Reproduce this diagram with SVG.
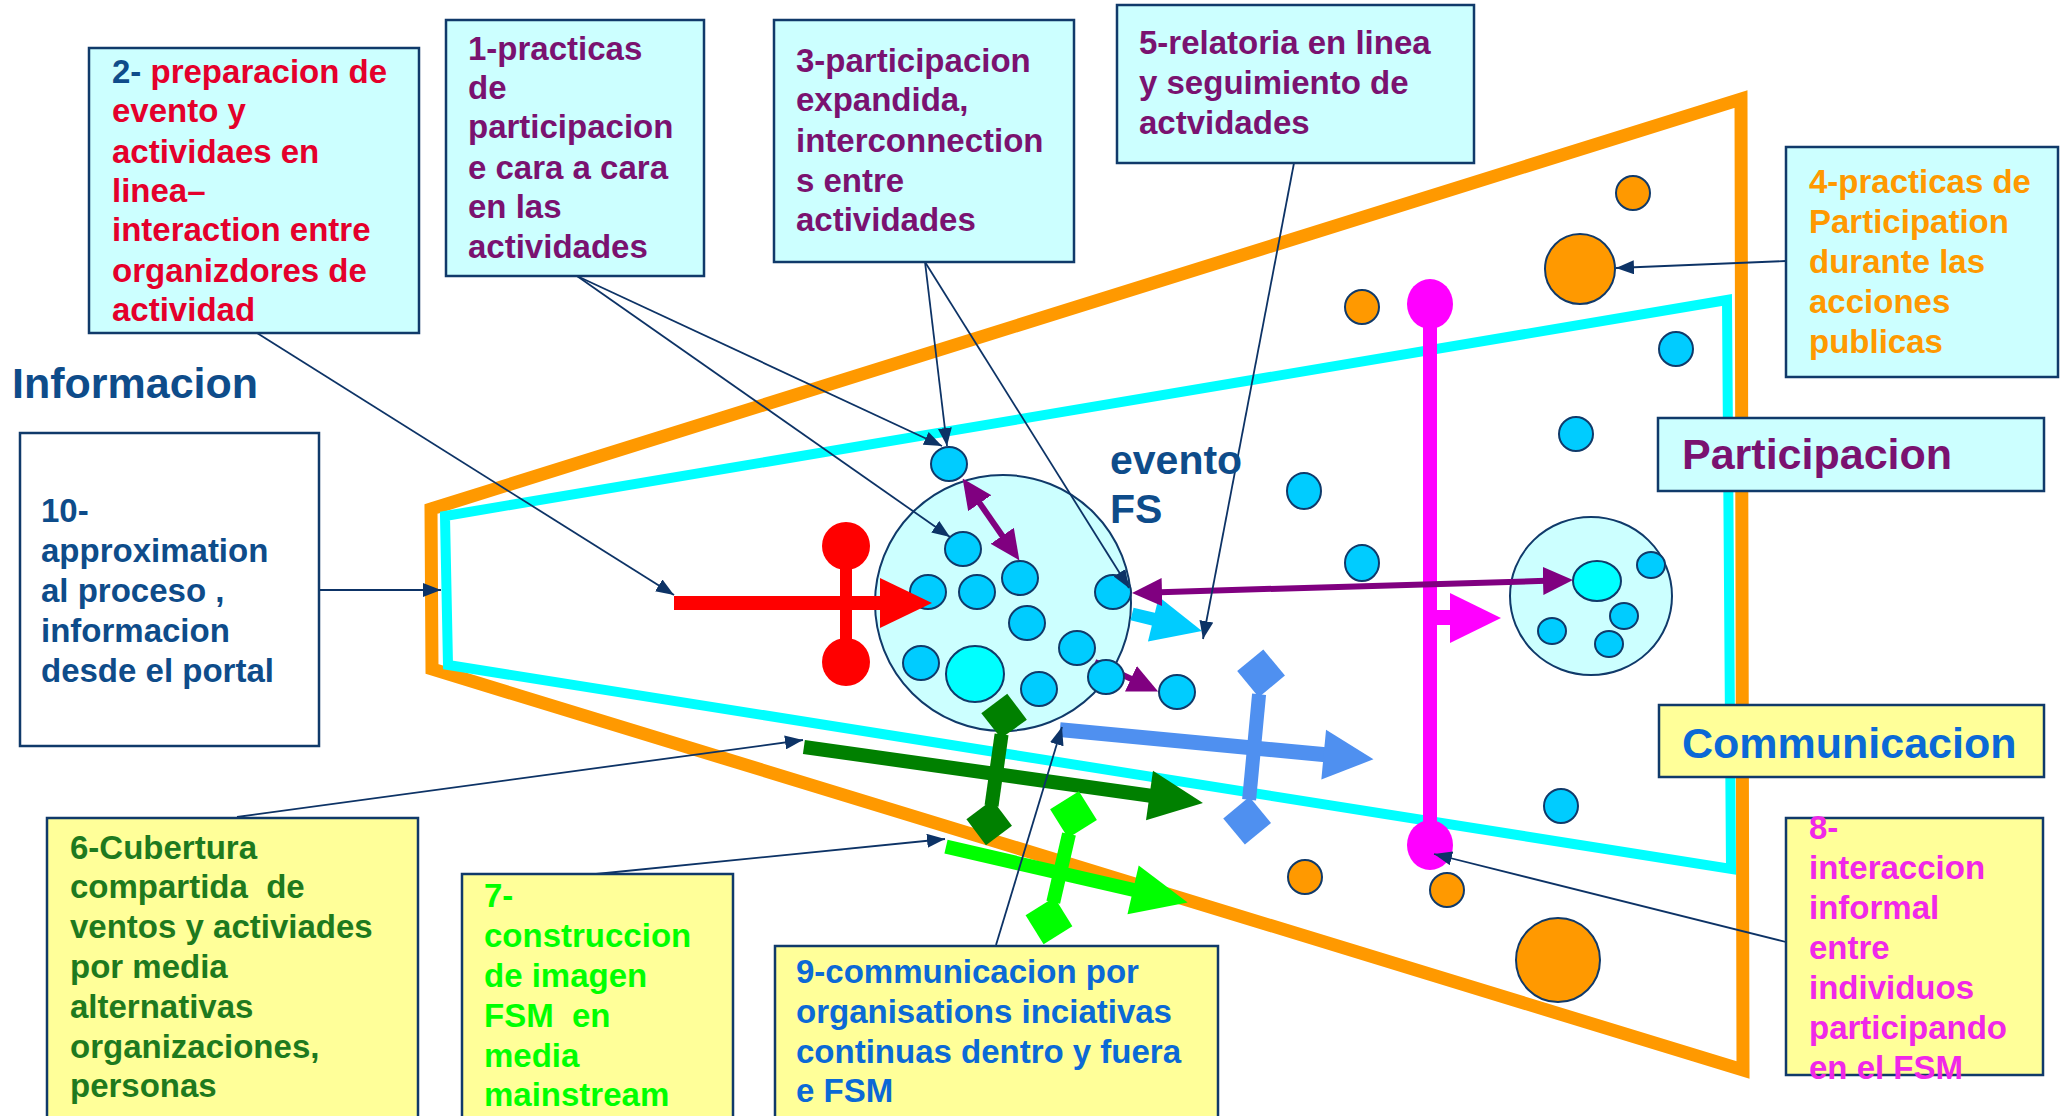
<svg xmlns="http://www.w3.org/2000/svg" width="2064" height="1116" viewBox="0 0 2064 1116">
<defs>
<style>
text { font-family: "Liberation Sans", Arial, Helvetica, sans-serif; font-weight: bold; }
.t { font-size: 33px; }
.big { font-size: 43px; }
.navy { fill: #0E4C8A; }
.purple { fill: #7A1270; }
.red { fill: #E4002B; }
.orange { fill: #FF9900; }
.dgreen { fill: #1E7A1E; }
.lgreen { fill: #00FF00; }
.blue { fill: #0B69D6; }
.magenta { fill: #F028E8; }
.bc { fill: #CCFFFF; stroke: #103A6A; stroke-width: 2.5; }
.by { fill: #FFFF99; stroke: #103A6A; stroke-width: 2.5; }
.bw { fill: #FFFFFF; stroke: #103A6A; stroke-width: 2.5; }
.c { fill: #00CCFF; stroke: #103A6A; stroke-width: 2; }
.o { fill: #FF9900; stroke: #103A6A; stroke-width: 2; }
.conn { stroke: #0D3366; stroke-width: 1.8; fill: none; marker-end: url(#ah); }
.pa { stroke: #800080; stroke-width: 6; fill: none; marker-end: url(#ph); }
</style>
<marker id="ah" viewBox="0 0 18 14" refX="18" refY="7" markerWidth="18" markerHeight="14" markerUnits="userSpaceOnUse" orient="auto">
<path d="M0,0 L18,7 L0,14 z" fill="#0D3366"/>
</marker>
<marker id="ph" viewBox="0 0 30 28" refX="10" refY="14" markerWidth="30" markerHeight="28" markerUnits="userSpaceOnUse" orient="auto-start-reverse">
<path d="M0,0 L30,14 L0,28 z" fill="#800080"/>
</marker>
</defs>
<rect width="2064" height="1116" fill="#FFFFFF"/>

<g id="frames" fill="none" stroke-linejoin="miter">
<polygon points="431,509 1741,99 1743,1070 432,669" stroke="#FF9900" stroke-width="13"/>
<polygon points="445,516 1727,300 1731,869 448,665" stroke="#00FFFF" stroke-width="10"/>
</g>

<g id="event-circle">
<circle cx="1003" cy="603" r="128" fill="#CCFFFF" stroke="#103A6A" stroke-width="2"/>
</g>

<g id="purple-short">
<line x1="1095" y1="662" x2="1140" y2="683" class="pa"/>
</g>

<g id="inner-circles">
<ellipse class="c" cx="963" cy="549" rx="18" ry="17"/>
<ellipse class="c" cx="1020" cy="578" rx="18" ry="17"/>
<ellipse class="c" cx="928" cy="592" rx="18" ry="17"/>
<ellipse class="c" cx="977" cy="592" rx="18" ry="17"/>
<ellipse class="c" cx="1113" cy="592" rx="18" ry="17"/>
<ellipse class="c" cx="1027" cy="623" rx="18" ry="17"/>
<ellipse class="c" cx="1077" cy="648" rx="18" ry="17"/>
<ellipse class="c" cx="921" cy="663" rx="18" ry="17"/>
<ellipse cx="975" cy="674" rx="29" ry="28" fill="#00FFFF" stroke="#103A6A" stroke-width="2"/>
<ellipse class="c" cx="1039" cy="689" rx="18" ry="17"/>
<ellipse class="c" cx="1106" cy="677" rx="18" ry="17"/>
</g>

<g id="right-cluster">
<ellipse cx="1591" cy="596" rx="81" ry="79" fill="#CCFFFF" stroke="#103A6A" stroke-width="2"/>
<ellipse cx="1597" cy="581" rx="24" ry="20" fill="#00FFFF" stroke="#103A6A" stroke-width="2"/>
<ellipse class="c" cx="1651" cy="565" rx="14" ry="13"/>
<ellipse class="c" cx="1624" cy="616" rx="14" ry="13"/>
<ellipse class="c" cx="1552" cy="631" rx="14" ry="13"/>
<ellipse class="c" cx="1609" cy="644" rx="14" ry="13"/>
</g>

<g id="loose-circles">
<ellipse class="c" cx="949" cy="464" rx="18" ry="17"/>
<ellipse class="c" cx="1177" cy="692" rx="18" ry="17"/>
<ellipse class="c" cx="1304" cy="491" rx="17" ry="18"/>
<ellipse class="c" cx="1362" cy="563" rx="17" ry="18"/>
<ellipse class="c" cx="1576" cy="434" rx="17" ry="17"/>
<ellipse class="c" cx="1676" cy="349" rx="17" ry="17"/>
<ellipse class="c" cx="1561" cy="806" rx="17" ry="17"/>
<ellipse class="o" cx="1633" cy="193" rx="17" ry="17"/>
<ellipse class="o" cx="1580" cy="269" rx="35" ry="35"/>
<ellipse class="o" cx="1362" cy="307" rx="17" ry="17"/>
<ellipse class="o" cx="1305" cy="877" rx="17" ry="17"/>
<ellipse class="o" cx="1447" cy="890" rx="17" ry="17"/>
<ellipse class="o" cx="1558" cy="960" rx="42" ry="42"/>
</g>

<g id="red-cross" transform="translate(846,603)" fill="#FF0000">
<rect x="-172" y="-7" width="208" height="14"/>
<polygon points="34,-25 86,0 34,25"/>
<rect x="-6" y="-58" width="12" height="116"/>
<ellipse cx="0" cy="-57" rx="24" ry="24"/>
<ellipse cx="0" cy="59" rx="24" ry="24"/>
</g>

<g id="darkgreen-cross" transform="translate(996,774) rotate(8)" fill="#008000">
<rect x="-194" y="-7" width="352" height="14"/>
<polygon points="155,-25 209,0 155,25"/>
<rect x="-7" y="-40" width="14" height="72"/>
<polygon points="0,-81 23,-58 0,-36 -23,-58"/>
<polygon points="0,26 23,49 0,72 -23,49"/>
</g>

<g id="blue-cross" transform="translate(1254,748) rotate(5.4)" fill="#4F90F0">
<rect x="-195" y="-7.5" width="267" height="15"/>
<polygon points="70,-25 120,0 70,25"/>
<rect x="-7" y="-54" width="14" height="106"/>
<polygon points="0,-99 24,-75 0,-51 -24,-75"/>
<polygon points="0,49 24,73 0,97 -24,73"/>
</g>

<g id="green-cross" transform="translate(1060,873) rotate(13)" fill="#00FF00">
<rect x="-117" y="-7" width="195" height="14"/>
<polygon points="75,-25 131,0 75,25"/>
<rect x="-7" y="-40" width="14" height="70"/>
<polygon points="0,-84 24,-60 0,-36 -24,-60"/>
<polygon points="0,25 24,49 0,73 -24,49"/>
</g>

<g id="lightblue-arrow" transform="translate(1132,614) rotate(13.6)" fill="#00CCFF">
<rect x="0" y="-6.5" width="24" height="13"/>
<polygon points="22,-23 72,0 22,23"/>
</g>

<g id="magenta-bar" fill="#FF00FF">
<rect x="1423" y="304" width="14" height="541"/>
<ellipse cx="1430" cy="304" rx="23" ry="25"/>
<ellipse cx="1430" cy="845" rx="23" ry="25"/>
<rect x="1430" y="610" width="22" height="15"/>
<polygon points="1450,593 1501,618 1450,643"/>
</g>

<g id="purple-arrows">
<line x1="974" y1="495" x2="1008" y2="544" class="pa" style="marker-start:url(#ph)"/>
<line x1="1152" y1="592.4" x2="1553" y2="580.6" class="pa" style="marker-start:url(#ph)"/>
</g>

<g id="connectors">
<line class="conn" x1="257" y1="333" x2="674" y2="595"/>
<line class="conn" x1="319" y1="590" x2="441" y2="590"/>
<line class="conn" x1="577" y1="276" x2="942" y2="446"/>
<line class="conn" x1="577" y1="276" x2="950" y2="537"/>
<line class="conn" x1="925" y1="262" x2="947" y2="446"/>
<line class="conn" x1="925" y1="262" x2="1129" y2="588"/>
<line class="conn" x1="1294" y1="163" x2="1203" y2="639"/>
<line class="conn" x1="1786" y1="261" x2="1616" y2="268"/>
<line class="conn" x1="237" y1="817" x2="803" y2="740"/>
<line class="conn" x1="596" y1="874" x2="945" y2="839"/>
<line class="conn" x1="996" y1="945" x2="1062" y2="727"/>
<line class="conn" x1="1786" y1="942" x2="1434" y2="854"/>
</g>

<g id="box2">
<rect class="bc" x="89" y="48" width="330" height="285"/>
<text class="t red" x="112" y="83"><tspan class="navy">2- </tspan>preparacion de</text>
<text class="t red" x="112" y="122">evento y</text>
<text class="t red" x="112" y="163">actividaes en</text>
<text class="t red" x="112" y="202">linea–</text>
<text class="t red" x="112" y="241">interaction entre</text>
<text class="t red" x="112" y="282">organizdores de</text>
<text class="t red" x="112" y="321">actividad</text>
</g>

<g id="box1">
<rect class="bc" x="446" y="20" width="258" height="256"/>
<text class="t purple" x="468" y="60">1-practicas</text>
<text class="t purple" x="468" y="99">de</text>
<text class="t purple" x="468" y="138">participacion</text>
<text class="t purple" x="468" y="179">e cara a cara</text>
<text class="t purple" x="468" y="218">en las</text>
<text class="t purple" x="468" y="258">actividades</text>
</g>

<g id="box3">
<rect class="bc" x="774" y="20" width="300" height="242"/>
<text class="t purple" x="796" y="72">3-participacion</text>
<text class="t purple" x="796" y="111">expandida,</text>
<text class="t purple" x="796" y="152">interconnection</text>
<text class="t purple" x="796" y="192">s entre</text>
<text class="t purple" x="796" y="231">actividades</text>
</g>

<g id="box5">
<rect class="bc" x="1117" y="5" width="357" height="158"/>
<text class="t purple" x="1139" y="54">5-relatoria en linea</text>
<text class="t purple" x="1139" y="94">y seguimiento de</text>
<text class="t purple" x="1139" y="134">actvidades</text>
</g>

<g id="box4">
<rect class="bc" x="1786" y="147" width="272" height="230"/>
<text class="t orange" x="1809" y="193">4-practicas de</text>
<text class="t orange" x="1809" y="233">Participation</text>
<text class="t orange" x="1809" y="273">durante las</text>
<text class="t orange" x="1809" y="313">acciones</text>
<text class="t orange" x="1809" y="353">publicas</text>
</g>

<g id="participacion">
<rect class="bc" x="1658" y="418" width="386" height="73"/>
<text class="big purple" x="1682" y="469">Participacion</text>
</g>

<g id="communicacion">
<rect class="by" x="1659" y="705" width="385" height="72"/>
<text class="big blue" x="1682" y="758">Communicacion</text>
</g>

<g id="box10">
<rect class="bw" x="20" y="433" width="299" height="313"/>
<text class="t navy" x="41" y="522">10-</text>
<text class="t navy" x="41" y="562">approximation</text>
<text class="t navy" x="41" y="602">al proceso ,</text>
<text class="t navy" x="41" y="642">informacion</text>
<text class="t navy" x="41" y="682">desde el portal</text>
</g>

<g id="box6">
<rect class="by" x="47" y="818" width="371" height="310"/>
<text class="t dgreen" x="70" y="859">6-Cubertura</text>
<text class="t dgreen" x="70" y="898" xml:space="preserve">compartida  de</text>
<text class="t dgreen" x="70" y="938">ventos y activiades</text>
<text class="t dgreen" x="70" y="978">por media</text>
<text class="t dgreen" x="70" y="1018">alternativas</text>
<text class="t dgreen" x="70" y="1058">organizaciones,</text>
<text class="t dgreen" x="70" y="1097">personas</text>
</g>

<g id="box7">
<rect class="by" x="462" y="874" width="271" height="254"/>
<text class="t lgreen" x="484" y="907">7-</text>
<text class="t lgreen" x="484" y="947">construccion</text>
<text class="t lgreen" x="484" y="987">de imagen</text>
<text class="t lgreen" x="484" y="1027" xml:space="preserve">FSM  en</text>
<text class="t lgreen" x="484" y="1067">media</text>
<text class="t lgreen" x="484" y="1106">mainstream</text>
</g>

<g id="box9">
<rect class="by" x="775" y="946" width="443" height="182"/>
<text class="t blue" x="796" y="983">9-communicacion por</text>
<text class="t blue" x="796" y="1023">organisations inciativas</text>
<text class="t blue" x="796" y="1063">continuas dentro y fuera</text>
<text class="t blue" x="796" y="1102">e FSM</text>
</g>

<g id="box8">
<rect class="by" x="1786" y="818" width="257" height="257"/>
<text class="t magenta" x="1809" y="839">8-</text>
<text class="t magenta" x="1809" y="879">interaccion</text>
<text class="t magenta" x="1809" y="919">informal</text>
<text class="t magenta" x="1809" y="959">entre</text>
<text class="t magenta" x="1809" y="999">individuos</text>
<text class="t magenta" x="1809" y="1039">participando</text>
<text class="t magenta" x="1809" y="1079">en el FSM</text>
</g>

<g id="labels">
<text class="big navy" x="12" y="398">Informacion</text>
<text class="navy" x="1110" y="474" font-size="41">evento</text>
<text class="navy" x="1110" y="523" font-size="41">FS</text>
</g>
</svg>
